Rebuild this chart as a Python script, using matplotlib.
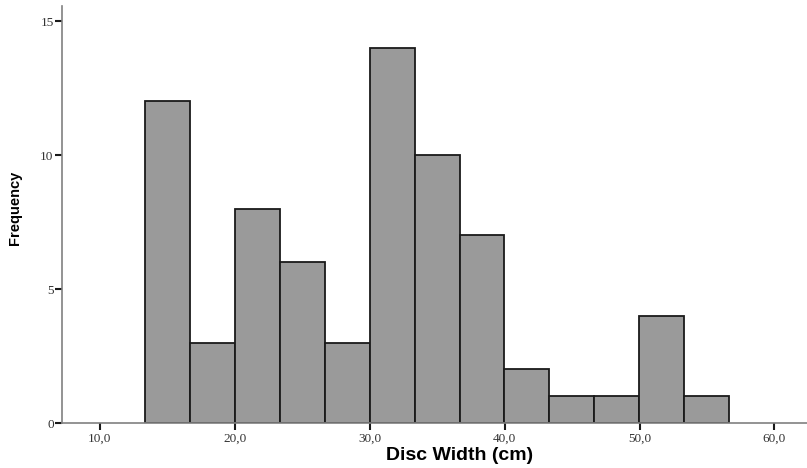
import numpy as np
import matplotlib.pyplot as plt

# histogram bins (cm) and counts
bin_start = 13.33
bin_width = 3.333
counts = [12, 3, 8, 6, 3, 14, 10, 7, 2, 1, 1, 4, 1]
x_ticks = [10, 20, 30, 40, 50, 60]
x_labels = ["10,0", "20,0", "30,0", "40,0", "50,0", "60,0"]
y_ticks = [0, 5, 10, 15]

edges = bin_start + bin_width * np.arange(len(counts))

fig = plt.figure(figsize=(8.07, 4.68), dpi=100)
ax = fig.add_axes([0.0768, 0.096, 0.923, 0.891])

ax.bar(edges, counts, width=bin_width, align='edge',
       color='#9a9a9a', edgecolor='#1a1a1a', linewidth=1.3)

ax.set_xlim(7.2, 62.4)
ax.set_ylim(0, 15.56)
ax.set_xticks(x_ticks)
ax.set_xticklabels(x_labels)
ax.set_yticks(y_ticks)

for s in ['top', 'right']:
    ax.spines[s].set_visible(False)
for s in ['left', 'bottom']:
    ax.spines[s].set_color('#808080')
    ax.spines[s].set_linewidth(1.2)

ax.tick_params(axis='x', direction='out', length=5, width=1.5,
               color='#1a1a1a', labelsize=9.5, pad=2)
ax.tick_params(axis='y', direction='out', length=5, width=1.5,
               color='#1a1a1a', labelsize=9.5, pad=1)
for lab in ax.get_xticklabels() + ax.get_yticklabels():
    lab.set_family('Liberation Serif')
    lab.set_color('#333333')

# axis titles (placed in figure pixels to match the original layout)
fig.text(460 / 807, 1 - 455 / 468, 'Disc Width (cm)', family='Liberation Sans',
         fontweight='bold', fontsize=14, ha='center', va='center')
fig.text(15 / 807, 1 - 208 / 468, 'Frequency', family='Liberation Sans',
         fontweight='bold', fontsize=10.5, rotation=90, ha='center', va='center')

fig.savefig('out.png', dpi=100)
